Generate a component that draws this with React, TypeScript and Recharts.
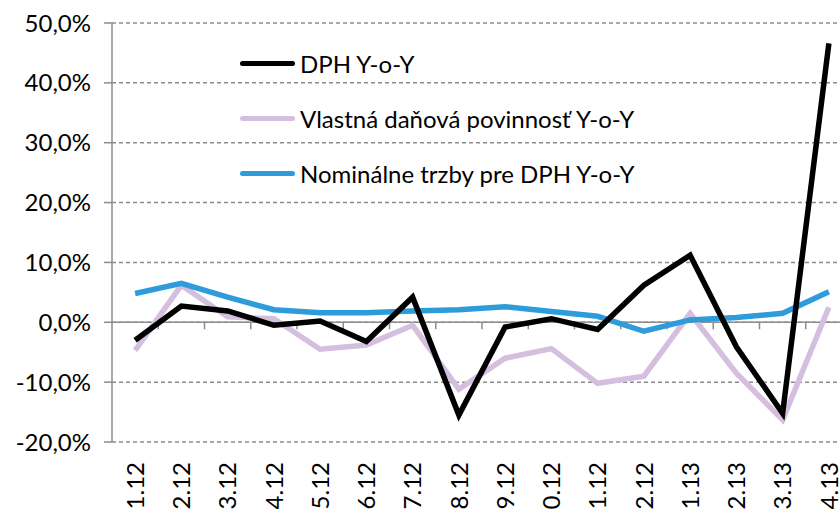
import { LineChart, Line, XAxis, YAxis, CartesianGrid, ReferenceLine } from 'recharts';

const months = [
  '01.12', '02.12', '03.12', '04.12', '05.12', '06.12', '07.12', '08.12',
  '09.12', '10.12', '11.12', '12.12', '01.13', '02.13', '03.13', '04.13',
];
const dphYoY = [-3.0, 2.7, 1.9, -0.5, 0.2, -3.2, 4.2, -15.5, -0.8, 0.6, -1.2, 6.2, 11.2, -4.1, -15.2, 46.6];
const vlastnaYoY = [-4.7, 6.2, 0.9, 0.6, -4.5, -3.8, -0.5, -11.2, -6.0, -4.4, -10.2, -9.0, 1.5, -8.5, -16.3, 2.5];
const trzbyYoY = [4.8, 6.5, 4.2, 2.1, 1.6, 1.6, 1.9, 2.1, 2.6, 1.8, 1.0, -1.5, 0.4, 0.8, 1.5, 5.1];
const yTicks = [-20, -10, 0, 10, 20, 30, 40, 50];

const series = [
  { key: 'dph', name: 'DPH Y-o-Y', color: '#000000' },
  { key: 'vlastna', name: 'Vlastná daňová povinnosť Y-o-Y', color: '#d4bfdf' },
  { key: 'trzby', name: 'Nominálne trzby pre DPH Y-o-Y', color: '#2e9bdb' },
];

const data = months.map((m, i) => ({
  month: m,
  dph: dphYoY[i],
  vlastna: vlastnaYoY[i],
  trzby: trzbyYoY[i],
}));

const FONT = 'Lato, "Open Sans", sans-serif';
const GRID = '#8c8c8c';

const fmtPct = (v: number) => v.toFixed(1).replace('.', ',') + '%';

// rotated month labels, reading bottom-to-top
const MonthTick = ({ x, y, payload }: any) => (
  <text
    x={x}
    y={y + 12}
    dy="0.36em"
    textAnchor="end"
    transform={`rotate(-90, ${x}, ${y + 12})`}
    fontFamily={FONT}
    fontSize={24}
    fill="#000"
  >
    {payload.value}
  </text>
);

// zero line with small category tick marks hanging below it
const ZeroLine = (props: any) => {
  const { x1, y1, x2 } = props;
  const step = (x2 - x1) / months.length;
  const marks = [];
  for (let k = 1; k < months.length; k++) {
    const xx = x1 + step * k;
    marks.push(<line key={k} x1={xx} y1={y1} x2={xx} y2={y1 + 7} stroke={GRID} strokeWidth={1.5} />);
  }
  return (
    <g>
      <line x1={x1} y1={y1} x2={x2} y2={y1} stroke={GRID} strokeWidth={1.5} />
      {marks}
    </g>
  );
};

const LegendBox = () => (
  <div style={{ position: 'absolute', left: 240, top: 36, fontFamily: FONT, fontSize: 24, color: '#000' }}>
    {series.map((s) => (
      <div key={s.key} style={{ display: 'flex', alignItems: 'center', height: 55 }}>
        <div style={{ width: 55, height: 5, borderRadius: 3, background: s.color, marginRight: 5 }} />
        <span>{s.name}</span>
      </div>
    ))}
  </div>
);

const App = () => {
  return (
    <div style={{ position: 'fixed', left: 0, top: 0, width: 840, height: 509, overflow: 'hidden', background: '#fff' }}>
      <LineChart width={852} height={530} data={data} margin={{ top: 23, right: 0, left: 0, bottom: 0 }}>
        <CartesianGrid vertical={false} stroke={GRID} strokeDasharray="4 3" strokeWidth={1.5} />
        <XAxis
          dataKey="month"
          scale="band"
          height={88}
          axisLine={false}
          tickLine={false}
          interval={0}
          tick={<MonthTick />}
        />
        <YAxis
          width={112}
          domain={[-20, 50]}
          ticks={yTicks}
          tickFormatter={fmtPct}
          axisLine={{ stroke: GRID, strokeWidth: 1.5 }}
          tickLine={{ stroke: GRID, strokeWidth: 1.5 }}
          tickSize={8}
          tickMargin={13}
          tick={{ fontFamily: FONT, fontSize: 24, fill: '#000' }}
        />
        <ReferenceLine y={0} shape={<ZeroLine />} />
        <Line dataKey="vlastna" name={series[1].name} stroke={series[1].color} strokeWidth={5.5} dot={false} type="linear" isAnimationActive={false} />
        <Line dataKey="trzby" name={series[2].name} stroke={series[2].color} strokeWidth={5.5} dot={false} type="linear" isAnimationActive={false} />
        <Line dataKey="dph" name={series[0].name} stroke={series[0].color} strokeWidth={5.5} dot={false} type="linear" isAnimationActive={false} />
      </LineChart>
      <LegendBox />
    </div>
  );
};

export default App;
